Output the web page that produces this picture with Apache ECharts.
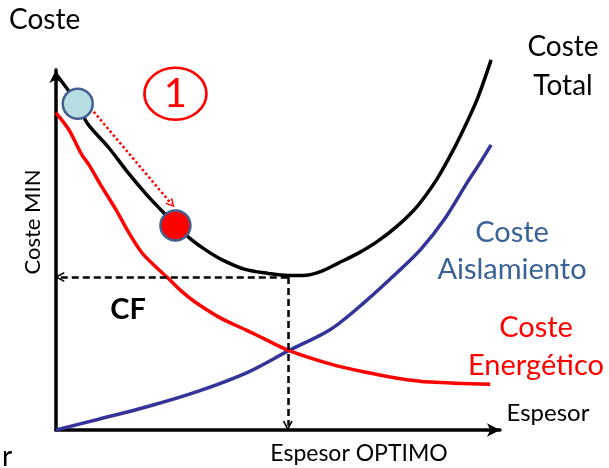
<!DOCTYPE html>
<html><head><meta charset="utf-8">
<script src="https://cdn.jsdelivr.net/npm/echarts@6/dist/echarts.min.js"></script>
<style>html,body{margin:0;padding:0;background:#fff}#c{width:609px;height:468px}</style>
</head><body><div id="c"></div>
<script>
// Conceptual chart: Espesor (0-100) vs Coste (0-100)
var costeTotal = [[0,98.9],[4.9,90.6],[7.0,85.3],[11.9,78.4],[15.9,72.0],[20.4,65.4],[24.2,60.4],[26.9,56.8],[30.5,52.9],[33.6,50.1],[37.2,47.4],[42.6,44.6],[47.8,43.5],[52.2,42.9],[55.6,42.9],[59.6,44.0],[63.5,46.3],[67.9,49.0],[72.4,52.4],[76.9,56.7],[81.4,62.2],[85.9,69.9],[89.7,78.3],[92.6,85.6],[95.1,92.6],[98.0,102.8]];
var costeEnergetico = [[0,88.1],[2.9,83.4],[5.8,76.5],[7.4,73.7],[10.3,67.6],[13.5,61.2],[16.4,54.8],[19.3,49.3],[22.4,45.4],[25.3,42.1],[28.3,38.5],[31.4,35.5],[37.2,31.0],[42.6,27.9],[46.6,25.5],[52.2,22.2],[61.9,18.3],[69.5,16.1],[76.9,14.4],[84.3,13.3],[97.8,12.7]];
var costeAislamiento = [[0,0],[9.6,3.0],[20.9,6.6],[32.1,10.8],[43.3,16.1],[52.2,21.9],[61.9,28.0],[69.5,35.5],[76.9,43.8],[82.1,50.1],[87.4,58.4],[92.6,68.7],[95.5,74.2],[98.0,79.2]];
var optimo = [52.2, 42.5];
var puntoInicial = [4.9, 90.6];
var puntoFinal = [26.9, 56.8];
var marca = [26.9, 93.4];
var flechaInicio = [8.5, 88.4];
var flechaFin = [26.0, 62.8];

var FONT = 'Lato';
var chevron = 'path://M0,10 L5,0 L10,10 L8.4,10.6 L5,3.4 L1.6,10.6 Z';

var chart = echarts.init(document.getElementById('c'), null, {renderer:'canvas'});
chart.setOption({
  animation:false,
  grid:{left:56,right:109,top:70,bottom:38},
  xAxis:{type:'value',min:0,max:100,
    axisLine:{show:true,symbol:['none','arrow'],symbolSize:[10,13],lineStyle:{color:'#000',width:3.5}},
    axisTick:{show:false},axisLabel:{show:false},splitLine:{show:false}},
  yAxis:{type:'value',min:0,max:100,
    axisLine:{show:true,symbol:['none','arrow'],symbolSize:[10,13],lineStyle:{color:'#000',width:3.5}},
    axisTick:{show:false},axisLabel:{show:false},splitLine:{show:false}},
  series:[
    {type:'line',data:costeAislamiento,smooth:0.3,showSymbol:false,clip:false,lineStyle:{color:'#333399',width:3.5},z:3},
    {type:'line',data:costeEnergetico,smooth:0.3,showSymbol:false,clip:false,lineStyle:{color:'#ff0000',width:3.5},z:3},
    {type:'line',data:costeTotal,smooth:0.3,showSymbol:false,clip:false,lineStyle:{color:'#000',width:3.5},z:3},
    {type:'lines',coordinateSystem:'cartesian2d',z:4,
      symbol:['none',chevron],symbolSize:[13,10],
      lineStyle:{color:'#000',width:2.5,type:[7,4],opacity:1},
      data:[{coords:[optimo,[0.8,optimo[1]]]},{coords:[optimo,[optimo[0],1.2]]}]},
    {type:'lines',coordinateSystem:'cartesian2d',z:4,
      symbol:['none',chevron],symbolSize:[12,9],
      lineStyle:{color:'#ff0000',width:2.5,type:[2.5,2.5],opacity:1},
      data:[{coords:[flechaInicio,flechaFin]}]},
    {type:'scatter',z:5,symbol:'circle',symbolSize:30,
      data:[{value:puntoInicial,itemStyle:{color:'#b7dde0'}},{value:puntoFinal,itemStyle:{color:'#ff0000'}}],
      itemStyle:{borderColor:'#41608f',borderWidth:2.5,opacity:1}},
    {type:'scatter',z:5,symbol:'circle',symbolSize:[62,52],
      data:[marca],
      itemStyle:{color:'rgba(0,0,0,0)',borderColor:'#ff0000',borderWidth:2.5,opacity:1},
      label:{show:true,position:'inside',formatter:'1',color:'#ff0000',fontFamily:FONT,fontSize:40}}
  ],
  graphic:[
    {type:'text',left:9,top:6,style:{text:'Coste',font:'28px '+FONT,fill:'#000'}},
    {type:'text',x:33,y:222,rotation:Math.PI/2,style:{text:'Coste MIN',font:'22px '+FONT,fill:'#000',align:'center',verticalAlign:'middle'}},
    {type:'text',x:128,y:310,style:{text:'CF',font:'bold 29px '+FONT,fill:'#000',align:'center',verticalAlign:'middle'}},
    {type:'text',x:563,y:47,style:{text:'Coste',font:'28px '+FONT,fill:'#000',align:'center',verticalAlign:'middle'}},
    {type:'text',x:563,y:86,style:{text:'Total',font:'28px '+FONT,fill:'#000',align:'center',verticalAlign:'middle'}},
    {type:'text',x:512,y:233,style:{text:'Coste',font:'29px '+FONT,fill:'#3a6296',align:'center',verticalAlign:'middle'}},
    {type:'text',x:512,y:270,style:{text:'Aislamiento',font:'29px '+FONT,fill:'#3a6296',align:'center',verticalAlign:'middle'}},
    {type:'text',x:536,y:328,style:{text:'Coste',font:'29px '+FONT,fill:'#ff0000',align:'center',verticalAlign:'middle'}},
    {type:'text',x:536,y:366,style:{text:'Energético',font:'29px '+FONT,fill:'#ff0000',align:'center',verticalAlign:'middle'}},
    {type:'text',x:548,y:413,style:{text:'Espesor',font:'24px '+FONT,fill:'#000',align:'center',verticalAlign:'middle'}},
    {type:'text',x:359,y:454,style:{text:'Espesor OPTIMO',font:'23px '+FONT,fill:'#000',align:'center',verticalAlign:'middle'}},
    {type:'text',x:7,y:457,style:{text:'r',font:'28px '+FONT,fill:'#000',align:'center',verticalAlign:'middle'}}
  ]
});
</script></body></html>
